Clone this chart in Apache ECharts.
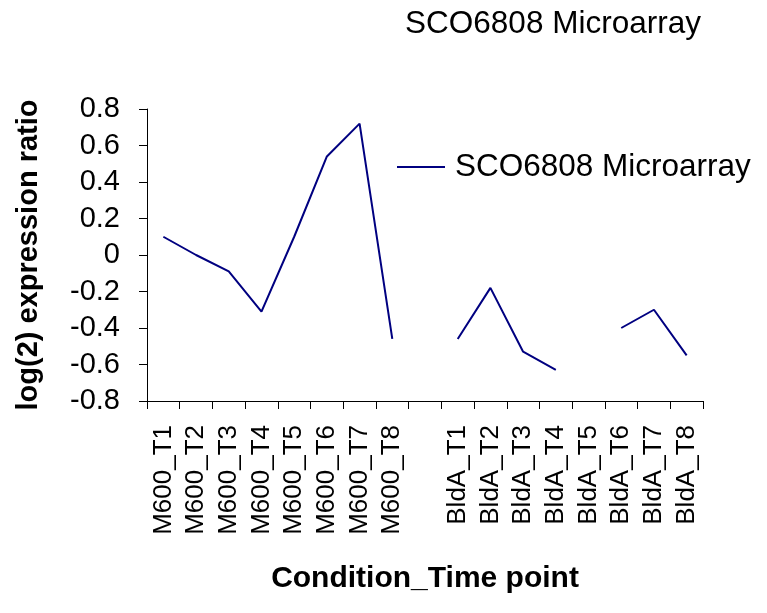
<!DOCTYPE html>
<html>
<head>
<meta charset="utf-8">
<script src="https://cdn.jsdelivr.net/npm/echarts@6/dist/echarts.min.js"></script>
<style>
  html, body { margin: 0; padding: 0; background: #fff; }
  #chart { width: 767px; height: 613px; }
</style>
</head>
<body>
<div id="chart"></div>
<script>
// categories (blank slot separates the two conditions)
var categories = [
  "M600_T1", "M600_T2", "M600_T3", "M600_T4", "M600_T5", "M600_T6", "M600_T7", "M600_T8",
  "",
  "BldA_T1", "BldA_T2", "BldA_T3", "BldA_T4", "BldA_T5", "BldA_T6", "BldA_T7", "BldA_T8"
];
// log2 ratios, null = no value
var ratios = [
  0.10, 0.00, -0.09, -0.31, 0.10, 0.54, 0.72, -0.46,
  null,
  -0.46, -0.18, -0.53, -0.63, null, -0.40, -0.30, -0.55
];
var seriesName = "SCO6808 Microarray";
var yMin = -0.8, yMax = 0.8, yStep = 0.2;

var font = "Liberation Sans, Arial, sans-serif";
var chart = echarts.init(document.getElementById("chart"));

chart.setOption({
  animation: false,
  backgroundColor: "#ffffff",
  title: {
    text: seriesName,
    left: 548,
    textAlign: "center",
    top: 3,
    textStyle: { fontFamily: font, fontSize: 31.5, fontWeight: "normal", color: "#000" }
  },
  legend: {
    data: [seriesName],
    left: 392,
    top: 146,
    itemWidth: 48,
    itemHeight: 2,
    icon: "rect",
    itemStyle: { color: "#000080" },
    textStyle: { fontFamily: font, fontSize: 31.5, color: "#000", padding: [0, 0, 0, 5] }
  },
  grid: { left: 147, right: 64, top: 109, bottom: 212 },
  xAxis: {
    type: "category",
    data: categories,
    boundaryGap: true,
    name: "Condition_Time point",
    nameLocation: "middle",
    nameGap: 163,
    nameTextStyle: { fontFamily: font, fontSize: 30, fontWeight: "bold", color: "#000" },
    axisLine: { onZero: false, lineStyle: { color: "#000", width: 1 } },
    axisTick: { show: true, length: 8, interval: 0, lineStyle: { color: "#000" } },
    axisLabel: {
      interval: 0,
      rotate: 90,
      margin: 24,
      fontFamily: font,
      fontSize: 26,
      color: "#000"
    },
    splitLine: { show: false }
  },
  yAxis: {
    type: "value",
    min: yMin,
    max: yMax,
    interval: yStep,
    name: "log(2) expression ratio",
    nameLocation: "middle",
    nameGap: 104,
    nameTextStyle: { fontFamily: font, fontSize: 29, fontWeight: "bold", color: "#000" },
    axisLine: { show: true, lineStyle: { color: "#000", width: 1 } },
    axisTick: { show: true, length: 8, lineStyle: { color: "#000" } },
    axisLabel: {
      margin: 27,
      fontFamily: font,
      fontSize: 29,
      color: "#000",
      formatter: function (v) {
        var r = Math.round(v * 10) / 10;
        return r === 0 ? "0" : String(r);
      }
    },
    splitLine: { show: false }
  },
  series: [
    {
      name: seriesName,
      type: "line",
      data: ratios,
      symbol: "none",
      connectNulls: false,
      lineStyle: { color: "#000080", width: 2 },
      itemStyle: { color: "#000080" }
    }
  ]
});
</script>
</body>
</html>
